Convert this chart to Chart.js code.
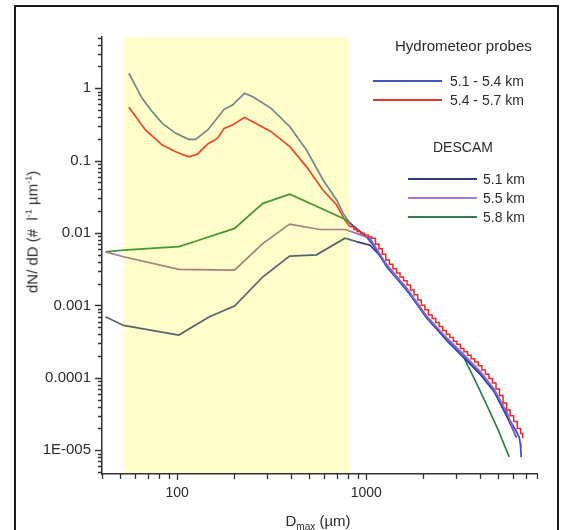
<!DOCTYPE html>
<html>
<head>
<meta charset="utf-8">
<script src="https://cdn.jsdelivr.net/npm/chart.js"></script>
<style>
  body { margin: 0; background: #fff; }
  #wrap { position: relative; width: 565px; height: 530px; overflow: hidden; background: #fff;
          font-family: "Liberation Sans", Arial, sans-serif; color: #2b2b2b; }
  #frame { position: absolute; left: 14px; top: 5px; width: 541px; height: 600px; border: 2px solid #1c1c1c; }
  canvas { position: absolute; left: 0; top: 0; }
  .ytitle { position: absolute; left: 32px; top: 232px; transform: translate(-50%, -50%) rotate(-90deg);
            white-space: nowrap; font-size: 15px; }
  .xtitle { position: absolute; left: 318px; top: 520px; transform: translate(-50%, -50%);
            white-space: nowrap; font-size: 15px; }
  sup { font-size: 9px; vertical-align: 6px; line-height: 0; }
  sub { font-size: 10px; vertical-align: -4px; line-height: 0; }
  .lg-text { position: absolute; white-space: nowrap; font-size: 14px; line-height: 16px; transform: translateY(-50%); }
  .lg-head { font-size: 15px; }
  .lg-line { position: absolute; height: 2px; }
</style>
</head>
<body>
<div id="wrap">
  <div id="frame"></div>
  <canvas id="myChart" width="565" height="530"></canvas>
  <div class="ytitle">dN/ dD (# &nbsp;l<sup>-1</sup> µm<sup>-1</sup>)</div>
  <div class="xtitle">D<sub>max</sub> (µm)</div>
  <div id="legend"></div>
</div>
<script>
// shaded size range (µm)
const bandRange = [52, 810];

// axis ticks
const xTicks = [40, 50, 60, 70, 80, 90, 100, 200, 300, 400, 500, 600, 700, 800, 900,
  1000, 2000, 3000, 4000, 5000, 6000, 7000, 8000];
const xMajor = [100, 1000];
const xMajorLabels = ["100", "1000"];
const yMajor = [1e-5, 1e-4, 1e-3, 1e-2, 0.1, 1];
const yMajorLabels = ["1E-005", "0.0001", "0.001", "0.01", "0.1", "1"];

// hydrometeor probes 5.1 - 5.4 km (inside shaded range, then tail)
const probeBlueX = [55.5, 65.2, 73.8, 83.4, 98.2, 115, 125, 145, 177, 196, 227, 251, 314, 394, 483, 591, 697, 755, 820];
const probeBlueY = [1.61, 0.725, 0.473, 0.327, 0.238, 0.197, 0.197, 0.265, 0.511, 0.586, 0.851, 0.763, 0.528, 0.294, 0.140, 0.054, 0.0286, 0.0187, 0.0136];
const probeBlueTailX = [820, 915, 1010, 1100, 1205, 1320, 1445, 1580, 1725, 1880, 2060, 2245, 2455, 2685, 2935,
  3205, 3495, 3815, 4170, 4555, 4970, 5430, 5930, 6240, 6450, 6520, 6560, 6600];
const probeBlueTailY = [0.0136, 0.0108, 0.0087, 0.0065, 0.0044, 0.00316, 0.0024, 0.00182, 0.00135, 9.9e-4, 7.1e-4,
  5.5e-4, 4.3e-4, 3.3e-4, 2.6e-4, 2.08e-4, 1.67e-4, 1.32e-4, 1.03e-4, 7.7e-5, 5.3e-5, 3.4e-5, 2.25e-5, 1.8e-5,
  1.5e-5, 1.25e-5, 1.05e-5, 8e-6];

// hydrometeor probes 5.4 - 5.7 km (binned tail drawn as steps)
const probeRedX = [55.5, 67.9, 83.4, 98.2, 115, 128, 145, 163, 177, 196, 227, 251, 314, 394, 483, 591, 697, 771, 820];
const probeRedY = [0.545, 0.265, 0.164, 0.133, 0.113, 0.123, 0.170, 0.203, 0.279, 0.310, 0.396, 0.344, 0.251, 0.156,
  0.082, 0.039, 0.0244, 0.0151, 0.0122];
const probeRedTailX = [820, 860, 895, 935, 978, 1025, 1071, 1118, 1165, 1215, 1269, 1325, 1383, 1445, 1508, 1575,
  1643, 1715, 1789, 1870, 1955, 2040, 2132, 2230, 2330, 2430, 2538, 2650, 2766, 2890, 3016, 3150, 3286, 3435,
  3588, 3745, 3910, 4085, 4264, 4455, 4649, 4855, 5065, 5290, 5522, 5770, 6022, 6290, 6552, 6720];
const probeRedTailY = [0.0122, 0.0112, 0.0105, 0.0099, 0.0094, 0.0088, 0.0085, 0.0070, 0.00605, 0.0051, 0.00424,
  0.0037, 0.00322, 0.0028, 0.00248, 0.0022, 0.00191, 0.00163, 0.0014, 0.00119, 0.00101, 8.7e-4, 7.4e-4, 6.6e-4,
  5.8e-4, 5.1e-4, 4.5e-4, 4.0e-4, 3.6e-4, 3.2e-4, 2.9e-4, 2.55e-4, 2.3e-4, 2.05e-4, 1.83e-4, 1.65e-4, 1.47e-4,
  1.28e-4, 1.12e-4, 9.8e-5, 8.5e-5, 7.0e-5, 5.7e-5, 4.5e-5, 3.6e-5, 3.0e-5, 2.5e-5, 2.0e-5, 1.7e-5, 1.46e-5];

// DESCAM model
const descam51X = [41.7, 52, 102, 148, 201, 284, 393, 546, 771, 889, 1046, 1196, 1285, 1642, 2098, 2680, 3283, 4028, 4742, 5587, 6240];
const descam51Y = [7.0e-4, 5.3e-4, 3.9e-4, 7.0e-4, 9.8e-4, 0.00249, 0.0048, 0.0050, 0.0085, 0.0076, 0.0068, 0.0047,
  0.0034, 0.00163, 6.6e-4, 3.3e-4, 1.9e-4, 1.1e-4, 6.5e-5, 2.8e-5, 1.5e-5];
const descam55X = [41.7, 52, 102, 201, 284, 393, 567, 771, 889, 1046, 1285, 1642, 2098, 2680, 3283, 4028, 4742, 5587, 6136];
const descam55Y = [0.0055, 0.0047, 0.00315, 0.00308, 0.0072, 0.0133, 0.0112, 0.0112, 0.0099, 0.0085, 0.0036, 0.0017,
  7.0e-4, 3.5e-4, 2.1e-4, 1.2e-4, 7.0e-5, 3.2e-5, 1.6e-5];
const descam58X = [41.7, 52, 102, 131, 201, 284, 394, 787, 1046, 1285, 1642, 2098, 2680, 3283, 3744, 4378, 4990, 5699];
const descam58Y = [0.0055, 0.0058, 0.0065, 0.0080, 0.0116, 0.0257, 0.0343, 0.0151, 0.0080, 0.0036, 0.0017, 6.8e-4,
  3.2e-4, 1.9e-4, 9.5e-5, 4.0e-5, 1.9e-5, 8.1e-6];

// legend
const probeLabels = ["5.1 - 5.4 km", "5.4 - 5.7 km"];
const probeColors = ["#3f55b8", "#ee3030"];
const descamLabels = ["5.1 km", "5.5 km", "5.8 km"];
const descamColors = ["#2c3a84", "#a27ad2", "#2f7d50"];

const yTicks = [];
[1e-6, 1e-5, 1e-4, 1e-3, 1e-2, 0.1, 1].forEach((d) => {
  for (let m = 1; m <= 9; m++) {
    const v = m === 1 ? d : m * d;
    if (v >= 4.7e-6 && v <= 5.1) yTicks.push(v);
  }
});

const isDecade = (v) => Math.abs(Math.log10(v) - Math.round(Math.log10(v))) < 1e-9;
const toPoints = (xs, ys) => xs.map((x, i) => ({ x: x, y: ys[i] }));
const bandColor = (inside, outside) => ({
  borderColor: (c) => (c.p0.parsed.x < bandRange[1] ? inside : outside),
});

const bandPlugin = {
  id: "band",
  beforeDraw(chart) {
    const { ctx, chartArea, scales } = chart;
    const x0 = scales.x.getPixelForValue(bandRange[0]);
    const x1 = scales.x.getPixelForValue(bandRange[1]);
    ctx.save();
    ctx.fillStyle = "#fffdc9";
    ctx.fillRect(x0, chartArea.top, x1 - x0, chartArea.bottom - chartArea.top);
    ctx.restore();
  },
};

const tickPlugin = {
  id: "tickMarks",
  afterDraw(chart) {
    const { ctx, chartArea: a, scales } = chart;
    ctx.save();
    ctx.strokeStyle = "#333";
    ctx.lineWidth = 1.3;
    ctx.beginPath();
    scales.x.ticks.forEach((t) => {
      const px = Math.round(scales.x.getPixelForValue(t.value)) + 0.5;
      ctx.moveTo(px, a.bottom);
      ctx.lineTo(px, a.bottom + (isDecade(t.value) ? 6 : 5));
    });
    scales.y.ticks.forEach((t) => {
      const py = Math.round(scales.y.getPixelForValue(t.value)) + 0.5;
      ctx.moveTo(a.left, py);
      ctx.lineTo(a.left - (isDecade(t.value) ? 7 : 4), py);
    });
    ctx.stroke();
    ctx.restore();
  },
};

const font = "'Liberation Sans', Arial, sans-serif";

const data = {
  datasets: [
    { data: toPoints(probeRedTailX, probeRedTailY), borderColor: "#f22424", stepped: true, borderWidth: 1.5 },
    { data: toPoints(descam55X, descam55Y), segment: bandColor("#a6807c", "#9262c8") },
    { data: toPoints(probeBlueTailX, probeBlueTailY), borderColor: "#3552c4" },
    { data: toPoints(descam51X, descam51Y), segment: bandColor("#56636c", "#2c3a8c") },
    { data: toPoints(descam58X, descam58Y), segment: bandColor("#45982e", "#2f8050") },
    { data: toPoints(probeRedX, probeRedY), borderColor: "#ec4624" },
    { data: toPoints(probeBlueX, probeBlueY), borderColor: "#72878a" },
  ],
};

const config = {
  type: "line",
  data: data,
  options: {
    responsive: false,
    animation: false,
    layout: { padding: { top: 37, right: 28, bottom: 0, left: 0 } },
    elements: {
      point: { radius: 0 },
      line: { borderWidth: 1.7, tension: 0, fill: false },
    },
    plugins: {
      legend: { display: false },
      tooltip: { enabled: false },
    },
    scales: {
      x: {
        type: "logarithmic",
        min: 40,
        max: 8000,
        grid: { display: false, drawTicks: false },
        border: { display: true, color: "#333", width: 1.5 },
        afterBuildTicks: (s) => { s.ticks = xTicks.map((v) => ({ value: v })); },
        afterFit: (s) => { s.height = 56; },
        ticks: {
          autoSkip: false,
          maxRotation: 0,
          padding: 11,
          color: "#2b2b2b",
          font: { family: font, size: 14 },
          callback: (v) => {
            const i = xMajor.indexOf(v);
            return i >= 0 ? xMajorLabels[i] : "";
          },
        },
      },
      y: {
        type: "logarithmic",
        min: 4.7e-6,
        max: 5.1,
        grid: { display: false, drawTicks: false },
        border: { display: true, color: "#333", width: 1.5 },
        afterBuildTicks: (s) => { s.ticks = yTicks.map((v) => ({ value: v })); },
        afterFit: (s) => { s.width = 102; },
        ticks: {
          autoSkip: false,
          padding: 11,
          color: "#2b2b2b",
          font: { family: font, size: 15 },
          callback: (v) => {
            const i = yMajor.indexOf(v);
            return i >= 0 ? yMajorLabels[i] : "";
          },
        },
      },
    },
  },
  plugins: [bandPlugin, tickPlugin],
};

const myChart = new Chart(document.getElementById("myChart").getContext("2d"), config);

// legend as text overlay
const legendBox = document.getElementById("legend");
function addText(text, left, cy, cls) {
  const el = document.createElement("div");
  el.className = "lg-text" + (cls ? " " + cls : "");
  el.style.left = left + "px";
  el.style.top = cy + "px";
  el.textContent = text;
  legendBox.appendChild(el);
}
function addLine(color, left, width, cy) {
  const el = document.createElement("div");
  el.className = "lg-line";
  el.style.left = left + "px";
  el.style.width = width + "px";
  el.style.top = (cy - 1) + "px";
  el.style.background = color;
  legendBox.appendChild(el);
}
addText("Hydrometeor probes", 395, 46, "lg-head");
probeLabels.forEach((label, i) => {
  const cy = 81 + i * 19;
  addLine(probeColors[i], 373, 69, cy);
  addText(label, 450, cy);
});
addText("DESCAM", 433, 147);
descamLabels.forEach((label, i) => {
  const cy = 179 + i * 19;
  addLine(descamColors[i], 408, 69, cy);
  addText(label, 483, cy);
});
</script>
</body>
</html>
